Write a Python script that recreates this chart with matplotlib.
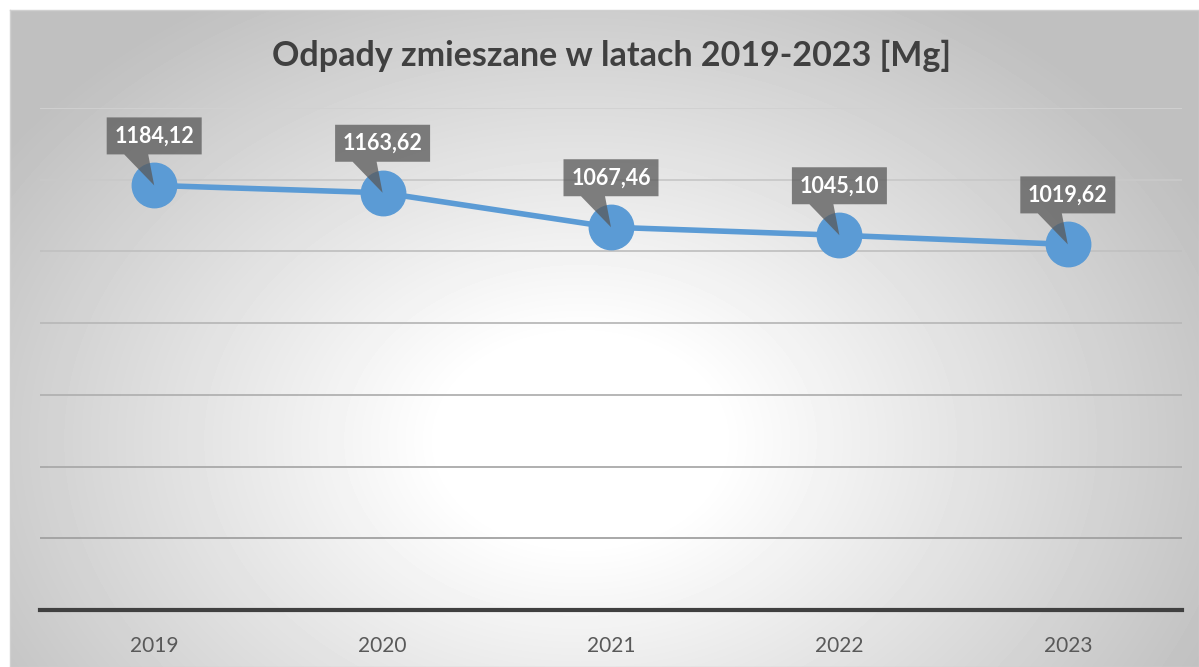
import numpy as np
import matplotlib
matplotlib.use("Agg")
import matplotlib.pyplot as plt
from matplotlib import transforms
from matplotlib.patches import Polygon

# Dane
lata = ["2019", "2020", "2021", "2022", "2023"]
odpady = [1184.12, 1163.62, 1067.46, 1045.10, 1019.62]
etykiety = ["1184,12", "1163,62", "1067,46", "1045,10", "1019,62"]
siatka = [200, 400, 600, 800, 1000, 1200, 1400]

plt.rcParams["font.family"] = ["Lato", "DejaVu Sans"]

W, H = 1199, 667
fig = plt.figure(figsize=(W / 100, H / 100), dpi=100)
fig.patch.set_facecolor("white")

# Tło z gradientem radialnym
bg = fig.add_axes([10 / W, 0, 1 - 10 / W, 1 - 10 / H])
yy, xx = np.mgrid[0:657, 0:1189]
r = np.sqrt(((xx - 570) / 700.0) ** 2 + ((yy - 430) / 520.0) ** 2)
shade = 1.0 - 0.25 * np.clip((r - 0.2) / 0.8, 0, 1) ** 1.0
bg.imshow(shade, cmap="gray", vmin=0, vmax=1, aspect="auto",
          extent=[0, 1, 0, 1], origin="upper")
bg.set_xticks([])
bg.set_yticks([])
for s in bg.spines.values():
    s.set_color("#d0d0d0")
    s.set_linewidth(1)

# Obszar wykresu
ax = fig.add_axes([40 / W, 1 - 610 / H, 1142 / W, 502 / H])
ax.set_facecolor("none")
ax.set_xlim(-0.5, 4.5)
ax.set_ylim(0, 1400)

# linie siatki - ciemnieją ku dołowi
for v in siatka:
    t = v / 1400
    g = 0.60 + 0.22 * t
    ax.axhline(v, color=(g, g, g), lw=1.3, zorder=1)

x = np.arange(len(lata))
ax.plot(x, odpady, color="#5b9bd5", lw=4, zorder=3,
        marker="o", markersize=32, markerfacecolor="#5b9bd5",
        markeredgecolor="#5b9bd5")

# Etykiety danych w dymkach
for xi, yi, lab in zip(x, odpady, etykiety):
    tr = fig.dpi_scale_trans + transforms.ScaledTranslation(xi, yi, ax.transData)
    pts = np.array([(-47.5, 31), (-30, 31), (0, 0), (-6, 31), (47.5, 31),
                    (47.5, 68), (-47.5, 68)]) / 100.0
    ax.add_patch(Polygon(pts, closed=True, transform=tr, facecolor="#595959",
                         alpha=0.75, edgecolor="none", zorder=4, clip_on=False))
    ax.text(0, 0.495, lab, transform=tr, ha="center", va="center",
            color="white", fontsize=15.5, fontweight="bold", zorder=5)

ax.set_xticks(x)
ax.set_xticklabels(lata)
ax.set_yticks([])
ax.tick_params(axis="x", length=0, pad=19, labelsize=15, labelcolor="#595959")
for s in ["top", "right", "left"]:
    ax.spines[s].set_visible(False)
ax.spines["bottom"].set_color("#404040")
ax.spines["bottom"].set_linewidth(3)
ax.spines["bottom"].set_zorder(2)

fig.text(611 / W, 1 - 56 / H, "Odpady zmieszane w latach 2019-2023 [Mg]",
         ha="center", va="center", fontsize=24.5, fontweight="bold",
         color="#404040")

fig.savefig("out.png", dpi=100)
